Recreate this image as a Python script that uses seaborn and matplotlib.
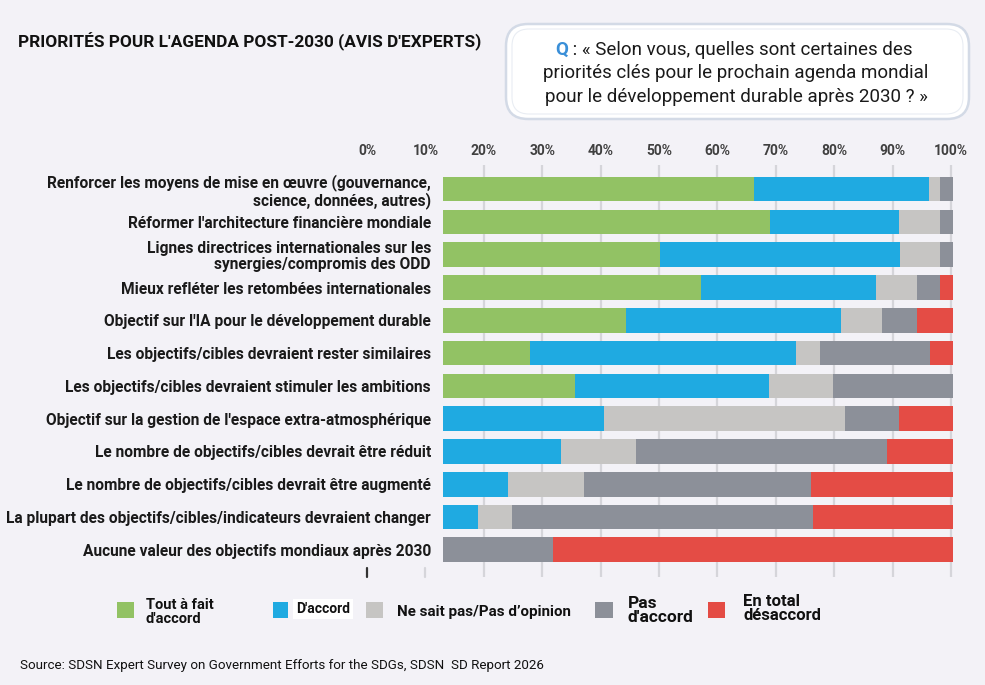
import numpy as np
import pandas as pd
import matplotlib.pyplot as plt
import matplotlib.transforms as mtransforms
from matplotlib.patches import FancyBboxPatch, Rectangle
import seaborn as sns

# data (share of respondents, %)
labels = [
    "Renforcer les moyens de mise en œuvre (gouvernance,\nscience, données, autres)",
    "Réformer l'architecture financière mondiale",
    "Lignes directrices internationales sur les\nsynergies/compromis des ODD",
    "Mieux refléter les retombées internationales",
    "Objectif sur l'IA pour le développement durable",
    "Les objectifs/cibles devraient rester similaires",
    "Les objectifs/cibles devraient stimuler les ambitions",
    "Objectif sur la gestion de l'espace extra-atmosphérique",
    "Le nombre de objectifs/cibles devrait être réduit",
    "Le nombre de objectifs/cibles devrait être augmenté",
    "La plupart des objectifs/cibles/indicateurs devraient changer",
    "Aucune valeur des objectifs mondiaux après 2030",
]
tout_a_fait = [61.0, 64.2, 42.6, 50.6, 35.8, 17.1, 25.8, 0, 0, 0, 0, 0]
d_accord = [34.3, 25.3, 47.0, 34.4, 42.3, 52.1, 38.2, 31.6, 23.2, 12.7, 6.9, 0]
ne_sait_pas = [2.2, 7.9, 7.9, 8.0, 7.9, 4.8, 12.4, 47.3, 14.7, 15.0, 6.7, 0]
pas_d_accord = [2.5, 2.6, 2.5, 4.4, 6.9, 21.4, 23.6, 10.6, 49.1, 44.5, 58.9, 21.5]
desaccord = [0, 0, 0, 2.6, 7.1, 4.6, 0, 10.5, 13.0, 27.8, 27.5, 78.5]

legend_labels = ["Tout à fait\nd'accord", "D'accord", "Ne sait pas/Pas d’opinion",
                 "Pas\nd'accord", "En total\ndésaccord"]
tick_vals = list(range(0, 101, 10))

colors = ["#92c264", "#1faae1", "#c6c5c3", "#8c9099", "#e44c45"]
bg = "#f3f2f7"

sns.set_theme(style="white")
plt.rcParams['font.family'] = ['Roboto', 'DejaVu Sans']

W, H = 985, 685
fig = plt.figure(figsize=(W / 100, H / 100), dpi=100, facecolor=bg)

ax = fig.add_axes([367 / W, 1 - 577 / H, (953 - 367) / W, (577 - 165) / H])
ax2 = ax.twiny()
ax.set_zorder(ax2.get_zorder() + 1)
ax.patch.set_visible(False)
ax2.patch.set_visible(False)

df = pd.DataFrame({"label": labels,
                   "s1": tout_a_fait, "s2": d_accord, "s3": ne_sait_pas,
                   "s4": pas_d_accord, "s5": desaccord})
cum = df[["s1", "s2", "s3", "s4", "s5"]].cumsum(axis=1)

# stacked bars: draw cumulative totals from the largest down
for k in range(4, -1, -1):
    sns.barplot(x=cum.iloc[:, k].values, y=df["label"], orient="h",
                color=colors[k], width=0.75, linewidth=0, saturation=1, ax=ax)

ax.set_xlim(-14.9, 100)
ax.set_ylim(11.83, -0.738)
ax.set_xlabel("")
ax.set_ylabel("")
ax.set_xticks([])
ax.tick_params(axis="y", length=0, pad=-46)
for t in ax.get_yticklabels():
    t.set_fontweight("bold")
    t.set_fontsize(11.2)
    t.set_color("#1a1a1a")
    t.set_linespacing(1.05)

# top percent axis with gridlines
ax2.set_xlim(0, 100.34)
ax2.set_xticks(tick_vals)
ax2.set_xticklabels([f"{v}%" for v in tick_vals], fontsize=10, fontweight="bold", color="#404040")
ax2.tick_params(axis="x", length=0, pad=5)
for v in tick_vals:
    if v >= 20:
        ax2.axvline(v, color="#d5d5da", lw=1.6, zorder=0)
ax2.axvline(0, ymin=0, ymax=0.022, color="#333333", lw=1.6, clip_on=False)
ax2.axvline(10, ymin=0, ymax=0.022, color="#d5d5da", lw=1.6, clip_on=False)
for a in (ax, ax2):
    for s in a.spines.values():
        s.set_visible(False)

# title
fig.text(18 / W, 1 - 42 / H, "PRIORITÉS POUR L'AGENDA POST-2030 (AVIS D'EXPERTS)",
         fontsize=12.4, fontweight="bold", color="#111111", va="center", ha="left")

# question box
ident = mtransforms.IdentityTransform()
fig.add_artist(FancyBboxPatch((506, H - 119), 463, 95,
                              boxstyle="round,pad=0,rounding_size=22",
                              facecolor="white", edgecolor="#d3dae6", lw=1.8,
                              transform=ident))
fig.add_artist(FancyBboxPatch((512, H - 114), 451, 85,
                              boxstyle="round,pad=0,rounding_size=17",
                              facecolor="none", edgecolor="#e9edf3", lw=0.8,
                              transform=ident))
q = fig.text(555 / W, 1 - 50 / H, "Q", fontsize=13.5, fontweight="bold",
             color="#3a8fd8", va="center", ha="left")
ax.annotate(" : « Selon vous, quelles sont certaines des", xy=(1, 0), xycoords=q,
            fontsize=13.5, color="#1a1a1a", va="bottom", ha="left", annotation_clip=False)
fig.text(736 / W, 1 - 73 / H, "priorités clés pour le prochain agenda mondial",
         fontsize=13.5, color="#1a1a1a", va="center", ha="center")
fig.text(736 / W, 1 - 97 / H, "pour le développement durable après 2030 ? »",
         fontsize=13.5, color="#1a1a1a", va="center", ha="center")

# legend
sq_x = [117, 273, 366, 595, 708]
sq_w = [17, 15, 17, 18, 17]
txt_x = [146, 296, 397, 628, 743]
txt_y = [612, 609, 612, 610.5, 608.5]
txt_fs = [10.5, 10, 10.9, 12.5, 12]
for i in range(5):
    fig.add_artist(Rectangle((sq_x[i], H - 618), sq_w[i], 16, facecolor=colors[i],
                             edgecolor="none", transform=ident))
    t = fig.text(txt_x[i] / W, 1 - txt_y[i] / H, legend_labels[i], fontsize=txt_fs[i],
                 fontweight="bold", color="#111111", va="center", ha="left",
                 linespacing=1.0)
    if i == 1:
        t.set_bbox(dict(facecolor="white", edgecolor="none", pad=2.5))

fig.text(20 / W, 1 - 665 / H,
         "Source: SDSN Expert Survey on Government Efforts for the SDGs, SDSN  SD Report 2026",
         fontsize=9.6, color="#111111", va="center", ha="left")

fig.savefig("out.png", dpi=100, facecolor=bg)
